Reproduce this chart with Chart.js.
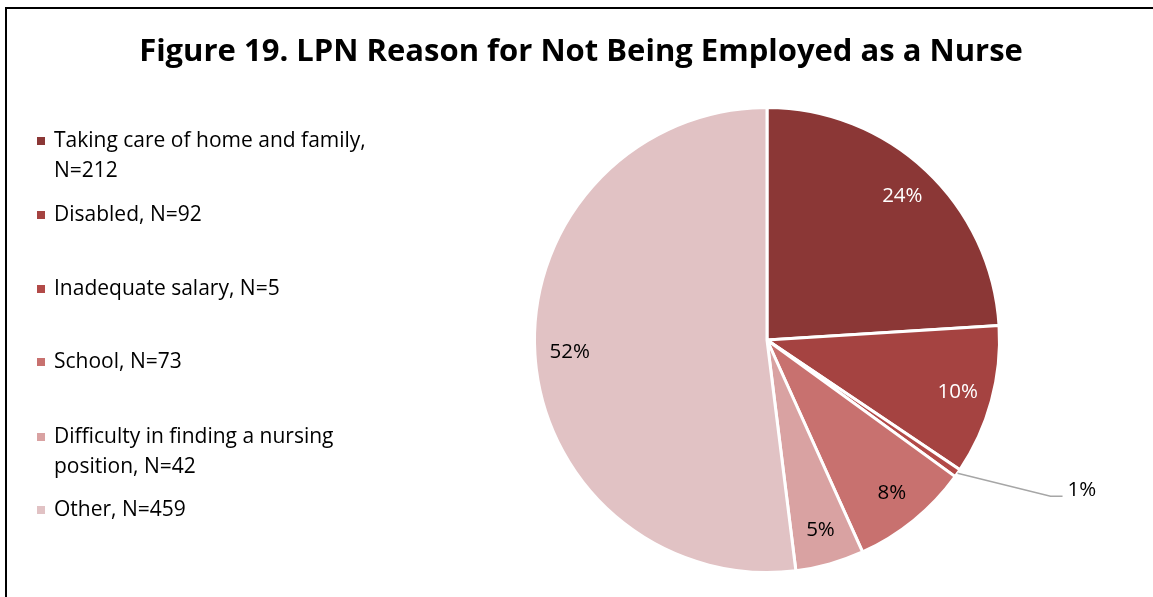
<!DOCTYPE html>
<html>
<head>
<meta charset="utf-8">
<script src="https://cdn.jsdelivr.net/npm/chart.js@4.4.1/dist/chart.umd.min.js"></script>
<style>
  html, body { margin: 0; padding: 0; background: #fff; }
  #wrap { position: relative; width: 1153px; height: 597px; }
</style>
</head>
<body>
<div id="wrap"><canvas id="c" width="1153" height="597"></canvas></div>
<script>
// Reasons given by LPNs for not working as a nurse
const categories = [
  ['Taking care of home and family,', 'N=212'],
  ['Disabled, N=92'],
  ['Inadequate salary, N=5'],
  ['School, N=73'],
  ['Difficulty in finding a nursing', 'position, N=42'],
  ['Other, N=459']
];
const counts = [212, 92, 5, 73, 42, 459];
const percentLabels = ['24%', '10%', '1%', '8%', '5%', '52%'];
const sliceColors = ['#8B3736', '#A54341', '#B24A48', '#C8716F', '#D9A2A2', '#E1C2C4'];
const labelColors = ['#ffffff', '#ffffff', '#000000', '#000000', '#000000', '#000000'];
const legendY = [141, 215, 289, 362, 437, 510];

const FONT = '"Open Sans", "Liberation Sans", sans-serif';

// Frame, title, legend and data labels drawn on the canvas
const decorations = {
  id: 'decorations',
  beforeDraw(chart) {
    const ctx = chart.ctx;
    ctx.save();
    ctx.fillStyle = '#fff';
    ctx.fillRect(0, 0, chart.width, chart.height);
    ctx.strokeStyle = '#000';
    ctx.lineWidth = 2;
    ctx.beginPath();
    ctx.moveTo(6, chart.height);
    ctx.lineTo(6, 8);
    ctx.lineTo(chart.width, 8);
    ctx.stroke();
    ctx.restore();
  },
  afterDraw(chart) {
    const ctx = chart.ctx;
    ctx.save();
    // title
    ctx.fillStyle = '#000';
    ctx.font = 'bold 31px ' + FONT;
    ctx.textAlign = 'center';
    ctx.textBaseline = 'middle';
    ctx.fillText('Figure 19. LPN Reason for Not Being Employed as a Nurse', 581, 52);

    // legend
    ctx.font = '21px ' + FONT;
    ctx.textAlign = 'left';
    categories.forEach((lines, i) => {
      const y = legendY[i];
      ctx.fillStyle = sliceColors[i];
      ctx.fillRect(37, y - 4, 8, 8);
      ctx.fillStyle = '#000';
      lines.forEach((t, k) => ctx.fillText(t, 54, y + k * 30));
    });

    // percentage labels
    const meta = chart.getDatasetMeta(0);
    const total = counts.reduce((a, b) => a + b, 0);
    ctx.font = '20.5px ' + FONT;
    ctx.textAlign = 'center';
    meta.data.forEach((arc, i) => {
      const p = arc.getProps(['x', 'y', 'startAngle', 'endAngle', 'outerRadius'], true);
      const mid = (p.startAngle + p.endAngle) / 2;
      if (counts[i] / total < 0.02) {
        // small slice: callout with leader line
        const ex = p.x + Math.cos(mid) * p.outerRadius;
        const ey = p.y + Math.sin(mid) * p.outerRadius;
        const kx = ex + 93, ky = ey + 23;
        ctx.strokeStyle = '#A6A6A6';
        ctx.lineWidth = 1.5;
        ctx.beginPath();
        ctx.moveTo(ex, ey);
        ctx.lineTo(kx, ky);
        ctx.lineTo(kx + 12, ky);
        ctx.stroke();
        ctx.fillStyle = labelColors[i];
        ctx.textAlign = 'left';
        ctx.fillText(percentLabels[i], kx + 17, ky - 6);
        ctx.textAlign = 'center';
      } else {
        const r = p.outerRadius * 0.85;
        ctx.fillStyle = labelColors[i];
        ctx.fillText(percentLabels[i], p.x + Math.cos(mid) * r, p.y + Math.sin(mid) * r);
      }
    });
    ctx.restore();
  }
};

new Chart(document.getElementById('c'), {
  type: 'pie',
  data: {
    labels: categories.map(l => l.join(' ')),
    datasets: [{
      data: counts,
      backgroundColor: sliceColors,
      borderColor: '#ffffff',
      borderWidth: 3
    }]
  },
  options: {
    responsive: false,
    animation: false,
    layout: { padding: { left: 533, right: 152, top: 106, bottom: 23 } },
    plugins: {
      legend: { display: false },
      title: { display: false },
      tooltip: { enabled: false }
    }
  },
  plugins: [decorations]
});
</script>
</body>
</html>
